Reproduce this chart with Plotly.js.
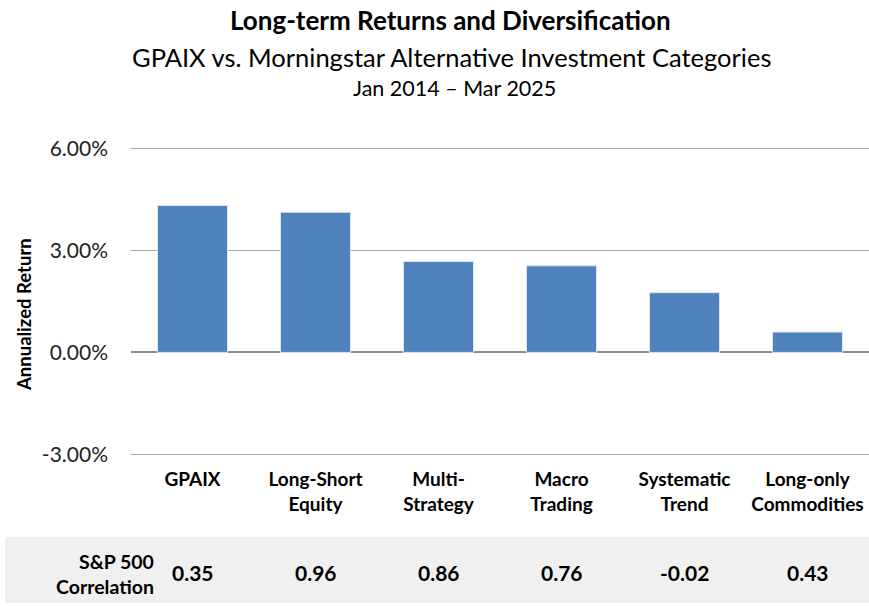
<!DOCTYPE html>
<html>
<head>
<meta charset="utf-8">
<script src="https://cdn.plot.ly/plotly-3.0.1.min.js"></script>
<style>html,body{margin:0;padding:0;background:#fff;}#chart{width:869px;height:606px;}</style>
</head>
<body>
<div id="chart"></div>
<script>
var categories = ["GPAIX", "Long-Short<br>Equity", "Multi-<br>Strategy", "Macro<br>Trading", "Systematic<br>Trend", "Long-only<br>Commodities"];
var annualizedReturn = [4.33, 4.13, 2.68, 2.55, 1.76, 0.60];
var sp500Correlation = ["0.35", "0.96", "0.86", "0.76", "-0.02", "0.43"];
var yTickValues = [-3, 0, 3, 6];
var yTickLabels = ["-3.00%", "0.00%", "3.00%", "6.00%"];

var FONT = "Lato, 'Open Sans', sans-serif";
var L = 131, R = 869, T = 147, B = 456;
function py(pix) { return (B - pix) / (B - T); }
function px(pix) { return (pix - L) / (R - L); }

var trace = {
  type: "bar",
  x: categories,
  y: annualizedReturn,
  marker: { color: "#4F81BD", line: { color: "#dfe8f3", width: 1 } },
  hoverinfo: "skip"
};

var annotations = [
  { text: "<b>Long-term Returns and Diversification</b>", x: px(450), y: py(20), xref: "paper", yref: "paper", showarrow: false, font: { family: FONT, size: 26, color: "#000" }, xanchor: "center", yanchor: "middle" },
  { text: "GPAIX vs. Morningstar Alternative Investment Categories", x: px(451), y: py(57), xref: "paper", yref: "paper", showarrow: false, font: { family: FONT, size: 25.5, color: "#000" }, xanchor: "center", yanchor: "middle" },
  { text: "Jan 2014 \u2013 Mar 2025", x: px(454), y: py(88), xref: "paper", yref: "paper", showarrow: false, font: { family: FONT, size: 21.5, color: "#000" }, xanchor: "center", yanchor: "middle" },
  { text: "<b>Annualized Return</b>", textangle: -90, x: px(24), y: py(314), xref: "paper", yref: "paper", showarrow: false, font: { family: FONT, size: 18.5, color: "#000" }, xanchor: "center", yanchor: "middle" },
  { text: "<b>S&P 500</b><br><b>Correlation</b>", x: px(156), y: py(574), xref: "paper", yref: "paper", showarrow: false, align: "right", font: { family: FONT, size: 19.5, color: "#000" }, xanchor: "right", yanchor: "middle" }
];
for (var i = 0; i < categories.length; i++) {
  annotations.push({ text: "<b>" + sp500Correlation[i] + "</b>", x: categories[i], y: py(572), xref: "x", yref: "paper", showarrow: false, font: { family: FONT, size: 21, color: "#000" }, xanchor: "center", yanchor: "middle" });
}

var layout = {
  width: 869, height: 606,
  margin: { l: L, r: 869 - R, t: T, b: 606 - B, pad: 0 },
  paper_bgcolor: "#fff", plot_bgcolor: "#fff",
  showlegend: false,
  bargap: 0.43,
  font: { family: FONT, color: "#000" },
  xaxis: {
    type: "category",
    showgrid: false, zeroline: false, showline: false,
    ticks: "", ticklabelstandoff: 10,
    tickfont: { family: FONT, size: 19, color: "#000", weight: "bold" },
    fixedrange: true
  },
  yaxis: {
    range: [-3.05, 6.05],
    tickvals: yTickValues, ticktext: yTickLabels,
    showgrid: true, gridcolor: "#a6a6a6", gridwidth: 1,
    zeroline: true, zerolinecolor: "#8c8c8c", zerolinewidth: 2,
    showline: false, ticks: "", ticklabelstandoff: 22,
    tickfont: { family: FONT, size: 21, color: "#222" },
    fixedrange: true
  },
  shapes: [
    { type: "rect", xref: "paper", yref: "paper", x0: px(5), x1: 1.01, y0: py(603), y1: py(537), fillcolor: "#f0f0f0", line: { width: 0 }, layer: "below" }
  ],
  annotations: annotations
};

Plotly.newPlot("chart", [trace], layout, { displayModeBar: false, staticPlot: true });
</script>
</body>
</html>
